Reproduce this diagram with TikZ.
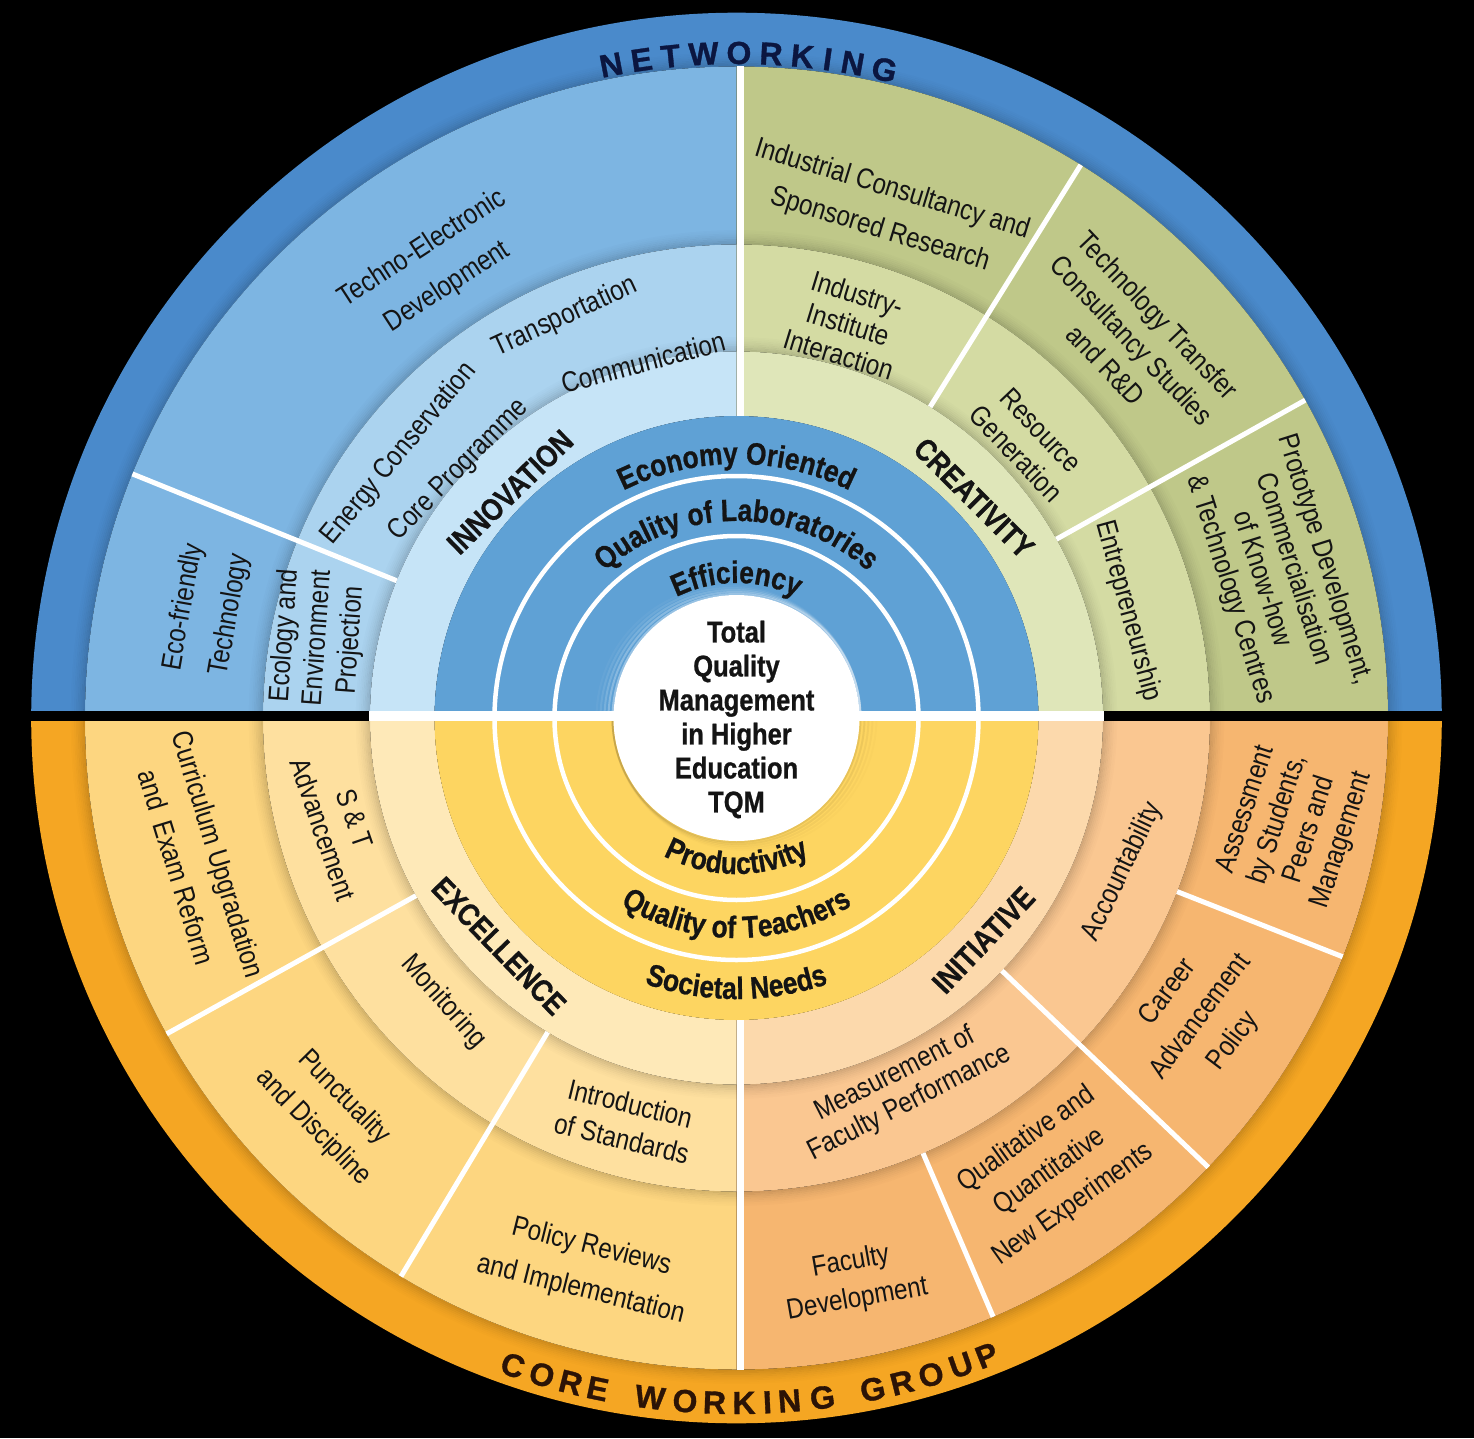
\documentclass[tikz,border=0pt]{standalone}
\usepackage{fontspec}
\newfontfamily\lab[FakeStretch=0.85]{Liberation Sans}
\newfontfamily\heavy[FakeStretch=0.85, FakeBold=0.8]{Liberation Sans}
\newfontfamily\rimfont[FakeBold=1]{Liberation Sans}
\usetikzlibrary{decorations.text}
\definecolor{bandBlue}{HTML}{4A8ACB}
\definecolor{tlOuter}{HTML}{7DB5E2}
\definecolor{tlRtwo}{HTML}{ABD3EF}
\definecolor{tlRthree}{HTML}{C6E4F7}
\definecolor{diskBlue}{HTML}{5FA1D5}
\definecolor{trOuter}{HTML}{BFC889}
\definecolor{trRtwo}{HTML}{D4DBA3}
\definecolor{trRthree}{HTML}{DFE6B9}
\definecolor{bandOrange}{HTML}{F5A623}
\definecolor{blOuter}{HTML}{FDD680}
\definecolor{blRtwo}{HTML}{FEE09F}
\definecolor{blRthree}{HTML}{FEE9B8}
\definecolor{diskYellow}{HTML}{FDD561}
\definecolor{brOuter}{HTML}{F6B670}
\definecolor{brRtwo}{HTML}{FAC791}
\definecolor{brRthree}{HTML}{FCD9AC}
\definecolor{txt}{HTML}{141414}
\definecolor{navy}{HTML}{0B1640}
\definecolor{rimbrown}{HTML}{2B1306}
\newcommand\annsec[5]{\fill[#1] (#2:#4pt) arc[start angle=#2, end angle=#3, radius=#4pt] -- (#3:#5pt) arc[start angle=#3, end angle=#2, radius=#5pt] -- cycle;}
\newcommand\labsz[1]{\lab\fontsize{28.5pt}{#1pt}\selectfont}
\newcommand\arcf{\heavy\bfseries\fontsize{31pt}{31pt}\selectfont}
\tikzset{
  lbl/.style={font=\labsz{36}, align=center, inner sep=0pt, text=txt},
  blbl/.style={font=\heavy\bfseries\fontsize{31pt}{31pt}\selectfont, inner sep=0pt, text=txt},
  rim/.style={font=\rimfont\bfseries\fontsize{32pt}{32pt}\selectfont, inner sep=0pt, anchor=center},
  sepline/.style={white, line width=5pt},
  arctext/.style={decorate, decoration={text along path, text align=center, text color=txt, text={|\arcf|#1}}}
}
\begin{document}
\begin{tikzpicture}
\useasboundingbox (-736.5pt,-720pt) rectangle (737.5pt,718pt);
\fill[black] (-736.5pt,-720pt) rectangle (737.5pt,718pt);
% outer bands
\annsec{bandBlue}{0}{180}{651.5}{705.3}
\annsec{bandOrange}{180}{360}{651.5}{705.3}
% top-left quadrant
\annsec{tlOuter}{90}{180}{473.5}{651.5}
\annsec{tlRtwo}{90}{180}{366.5}{473.5}
\annsec{tlRthree}{90}{180}{302}{366.5}
% top-right quadrant
\annsec{trOuter}{0}{90}{473.5}{651.5}
\annsec{trRtwo}{0}{90}{366.5}{473.5}
\annsec{trRthree}{0}{90}{302}{366.5}
% bottom-left quadrant
\annsec{blOuter}{180}{270}{473.5}{651.5}
\annsec{blRtwo}{180}{270}{366.5}{473.5}
\annsec{blRthree}{180}{270}{302}{366.5}
% bottom-right quadrant
\annsec{brOuter}{270}{360}{473.5}{651.5}
\annsec{brRtwo}{270}{360}{366.5}{473.5}
\annsec{brRthree}{270}{360}{302}{366.5}
% inner disks
\fill[diskBlue] (302pt,0pt) arc[start angle=0, end angle=180, radius=302pt] -- cycle;
\fill[diskYellow] (-302pt,0pt) arc[start angle=180, end angle=360, radius=302pt] -- cycle;
% ring shadows
\foreach \k/\o in {0/0.15,1/0.12,2/0.095,3/0.07,4/0.05,5/0.035,6/0.02,7/0.01}{
  \draw[black, opacity=\o, line width=1.8pt] (0pt,0pt) circle[radius=474.4pt+1.8pt*\k];
  \draw[black, opacity=\o, line width=1.8pt] (0pt,0pt) circle[radius=367.4pt+1.8pt*\k];
  \draw[black, opacity=\o, line width=1.8pt] (0pt,0pt) circle[radius=652.4pt+1.8pt*\k];
}
% halo round the centre
\foreach \k/\o in {0/0.35,1/0.25,2/0.16,3/0.09,4/0.04}{
  \draw[white, opacity=\o, line width=2pt] (124pt,0pt) arc[start angle=0, end angle=180, radius=124pt+2pt*\k];
  \draw[black, opacity=\o*0.25, line width=2pt] (-124pt,0pt) arc[start angle=180, end angle=360, radius=124pt+2pt*\k];
}
% white rings and centre
\draw[white, line width=4.5pt] (0pt,0pt) circle[radius=242pt];
\draw[white, line width=4.5pt] (0pt,0pt) circle[radius=182pt];
\fill[white] (0pt,0pt) circle[radius=123pt];
% horizontal gap
\fill[black] (-706pt,-3pt) rectangle (706pt,7pt);
\fill[white] (-367pt,-3pt) rectangle (367pt,7pt);
% vertical separators
\draw[white, line width=7pt] (3.5pt,302pt) -- (3.5pt,651.5pt);
\draw[white, line width=7pt] (3.5pt,-302pt) -- (3.5pt,-651.5pt);
% radial separators
\draw[sepline] (158:366.5pt) -- (158:651.5pt);
\draw[sepline] (58.1:366.5pt) -- (58.1:651.5pt);
\draw[sepline] (29.2:366.5pt) -- (29.2:651.5pt);
\draw[sepline] (209:366.5pt) -- (209:651.5pt);
\draw[sepline] (239:366.5pt) -- (239:651.5pt);
\draw[sepline] (-43.6:366.5pt) -- (-43.6:651.5pt);
\draw[sepline] (-21.5:473.5pt) -- (-21.5:651.5pt);
\draw[sepline] (-66.8:473.5pt) -- (-66.8:651.5pt);
% rim texts
\foreach \ch/\a [count=\i] in {N/100.86,E/98.21,T/95.69,W/92.84,O/89.79,R/87.01,K/84.30,I/82.11,N/79.93,G/77.15}
  \node[rim, text=navy, rotate=\a-90] (nw\i) at (\a:665pt) {\ch};
\foreach \ch/\a [count=\i] in {C/250.95,O/253.5,R/256.0,E/258.3,W/262.75,O/265.69,R/268.16,K/270.63,I/272.59,N/274.44,G/277.21,G/281.47,R/283.98,O/286.5,U/289.13,P/291.43}
  \node[rim, text=rimbrown, rotate=\a+90] (cw\i) at (\a:685pt) {\ch};
% arc texts in the inner disk
\path[arctext={Economy Oriented}] (150:254pt) arc[start angle=150, end angle=30, radius=254pt];
\path[arctext={Quality of Laboratories}] (160:197pt) arc[start angle=160, end angle=20, radius=197pt];
\path[arctext={Efficiency}] (160:135pt) arc[start angle=160, end angle=20, radius=135pt];
\path[arctext={Productivity}] (200:156pt) arc[start angle=200, end angle=340, radius=156pt];
\path[arctext={Quality of Teachers}] (200:220pt) arc[start angle=200, end angle=340, radius=220pt];
\path[arctext={Societal Needs}] (210:281pt) arc[start angle=210, end angle=330, radius=281pt];
% centre
\node[lbl, font=\heavy\bfseries\fontsize{30pt}{34pt}\selectfont] (tqm) at (0pt,-1.5pt) {Total\\Quality\\Management\\in Higher\\Education\\TQM};
% top-left labels
\node[lbl, font=\labsz{46}, rotate=33] (techno) at (-301.5pt,450pt) {Techno-Electronic\\Development};
\node[lbl, font=\labsz{47}, rotate=80] (ecofr) at (-529.5pt,107pt) {Eco-friendly\\Technology};
\node[lbl, font=\labsz{33}, rotate=86] (ecology) at (-418.5pt,80pt) {Ecology and\\Environment\\Projection};
\node[lbl, rotate=50.5] (energy) at (-337.5pt,264pt) {Energy Conservation};
\node[lbl, rotate=24.8] (transp) at (-171.5pt,401pt) {Transportation};
\node[lbl, rotate=45.4] (corep) at (-277.5pt,248pt) {Core Programme};
\node[lbl, rotate=15] (commun) at (-93.5pt,356pt) {Communication};
\node[blbl, rotate=44.3] (innov) at (-226.5pt,226pt) {INNOVATION};
% top-right labels
\node[lbl, font=\labsz{42}, rotate=-17] (indcons) at (149.5pt,508pt) {Industrial Consultancy and\\Sponsored Research};
\node[lbl, font=\labsz{32}, rotate=-17] (indinst) at (111.5pt,394pt) {Industry-\\Institute\\Interaction};
\node[lbl, font=\labsz{36}, rotate=-46.5] (techtr) at (395.5pt,378pt) {Technology Transfer\\Consultancy Studies\\and R\&D};
\node[lbl, font=\labsz{34}, rotate=-46.5] (resgen) at (292pt,276pt) {Resource\\Generation};
\node[blbl, rotate=-45] (creat) at (237.5pt,220pt) {CREATIVITY};
\node[lbl, rotate=-74.6] (entre) at (391.5pt,107pt) {Entrepreneurship};
\node[lbl, font=\labsz{33}, rotate=-72.5] (proto) at (541pt,143.5pt) {Prototype Development,\\Commercialisation\\of Know-how\\\& Technology Centres};
% bottom-left labels
\node[lbl, font=\labsz{44}, rotate=-73] (curric) at (-539pt,-142.6pt) {Curriculum Upgradation\\and~~Exam Reform};
\node[lbl, font=\labsz{34}, rotate=-71] (sandt) at (-397.5pt,-106pt) {S \& T\\Advancement};
\node[blbl, rotate=-46] (excel) at (-237.5pt,-228pt) {EXCELLENCE};
\node[lbl, rotate=-48.5] (monit) at (-293pt,-284pt) {Monitoring};
\node[lbl, font=\labsz{43}, rotate=-45.5] (punct) at (-408pt,-394.5pt) {Punctuality\\and Discipline};
\node[lbl, font=\labsz{36}, rotate=-13.5] (intro) at (-110.5pt,-403pt) {Introduction\\of Standards};
\node[lbl, font=\labsz{44}, rotate=-14] (policy) at (-150.5pt,-550.5pt) {Policy Reviews\\and Implementation};
% bottom-right labels
\node[lbl, font=\labsz{33.5}, rotate=72] (assess) at (558pt,-107pt) {Assessment\\by Students,\\Peers and\\Management};
\node[lbl, rotate=64.5] (account) at (386pt,-153.8pt) {Accountability};
\node[blbl, rotate=46.5] (initiat) at (247pt,-222pt) {INITIATIVE};
\node[lbl, font=\labsz{41}, rotate=53] (career) at (464.5pt,-299pt) {Career\\Advancement\\Policy};
\node[lbl, font=\labsz{32}, rotate=27] (measure) at (166pt,-370.8pt) {Measurement of\\Faculty Performance};
\node[lbl, font=\labsz{40}, rotate=35.5] (qualit) at (313.5pt,-454pt) {Qualitative and\\Quantitative\\New Experiments};
\node[lbl, font=\labsz{38}, rotate=10] (facdev) at (117.5pt,-563pt) {Faculty\\Development};
\end{tikzpicture}
\end{document}
